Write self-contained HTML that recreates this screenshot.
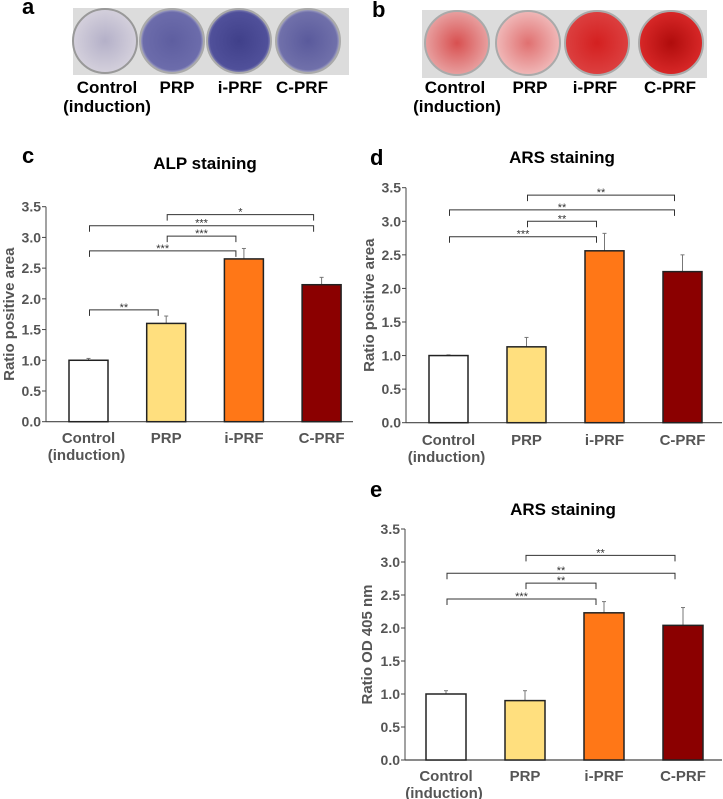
<!DOCTYPE html>
<html><head><meta charset="utf-8"><style>
body{margin:0;background:#fff}
svg{display:block;font-family:"Liberation Sans",sans-serif}
</style></head><body>
<svg id="fig" width="723" height="799" viewBox="0 0 723 799">
<defs>
<radialGradient id="gBlue" cx="50%" cy="50%" r="50%"><stop offset="0" stop-color="#5e5ea0"/><stop offset="0.9" stop-color="#6c6cab"/><stop offset="1" stop-color="#b0b0c8"/></radialGradient>
<radialGradient id="gBlueL" cx="50%" cy="50%" r="50%"><stop offset="0" stop-color="#b4b0c8"/><stop offset="1" stop-color="#d4d0dc"/></radialGradient>
<radialGradient id="gBlueD" cx="50%" cy="50%" r="50%"><stop offset="0" stop-color="#40408a"/><stop offset="0.9" stop-color="#50509a"/><stop offset="1" stop-color="#9090b8"/></radialGradient>
<radialGradient id="gBlueM" cx="50%" cy="50%" r="50%"><stop offset="0" stop-color="#5a5a9c"/><stop offset="0.9" stop-color="#7070aa"/><stop offset="1" stop-color="#b0b0c8"/></radialGradient>
<radialGradient id="gRedL" cx="50%" cy="50%" r="50%"><stop offset="0" stop-color="#d85050"/><stop offset="1" stop-color="#e8a0a0"/></radialGradient>
<radialGradient id="gRedP" cx="50%" cy="50%" r="50%"><stop offset="0" stop-color="#e07070"/><stop offset="1" stop-color="#f0b8b8"/></radialGradient>
<radialGradient id="gRed" cx="50%" cy="50%" r="50%"><stop offset="0" stop-color="#d42020"/><stop offset="1" stop-color="#dc4040"/></radialGradient>
<radialGradient id="gRedD" cx="50%" cy="50%" r="50%"><stop offset="0" stop-color="#b00c0c"/><stop offset="1" stop-color="#d82828"/></radialGradient>
</defs>
<g id="photos">
<text x="22" y="14" font-size="22" font-weight="bold">a</text>
<rect x="73" y="8" width="276" height="67" fill="#dcdcdc"/>
<circle cx="105" cy="41" r="32" fill="url(#gBlueL)" stroke="#999" stroke-width="2"/>
<circle cx="172" cy="41" r="32" fill="url(#gBlue)" stroke="#aaa" stroke-width="2"/>
<circle cx="239" cy="41" r="32" fill="url(#gBlueD)" stroke="#aaa" stroke-width="2"/>
<circle cx="308" cy="41" r="32" fill="url(#gBlueM)" stroke="#aaa" stroke-width="2"/>
<g font-size="17" font-weight="bold" text-anchor="middle">
<text x="107" y="93">Control</text><text x="107" y="112">(induction)</text>
<text x="177" y="93">PRP</text><text x="240" y="93">i-PRF</text><text x="302" y="93">C-PRF</text></g>
<text x="372" y="17" font-size="22" font-weight="bold">b</text>
<rect x="422" y="10" width="285" height="68" fill="#dcdcdc"/>
<circle cx="457" cy="43" r="32" fill="url(#gRedL)" stroke="#aaa" stroke-width="2"/>
<circle cx="528" cy="43" r="32" fill="url(#gRedP)" stroke="#aaa" stroke-width="2"/>
<circle cx="597" cy="43" r="32" fill="url(#gRed)" stroke="#aaa" stroke-width="2"/>
<circle cx="671" cy="43" r="32" fill="url(#gRedD)" stroke="#aaa" stroke-width="2"/>
<g font-size="17" font-weight="bold" text-anchor="middle">
<text x="455" y="93">Control</text><text x="457" y="112">(induction)</text>
<text x="530" y="93">PRP</text><text x="595" y="93">i-PRF</text><text x="670" y="93">C-PRF</text></g>
</g>
</svg>
<script>
const categories = ["Control", "PRP", "i-PRF", "C-PRF"];
const colors = ["#ffffff", "#ffdf7e", "#ff7717", "#8b0000"];
const ticks = [0, 0.5, 1.0, 1.5, 2.0, 2.5, 3.0, 3.5];
const alpMeans = [1.0, 1.6, 2.65, 2.23];
const alpErrors = [0.03, 0.12, 0.17, 0.12];
const alpSig = [[1, 3, 3.37, "*"], [0, 3, 3.19, "***"], [1, 2, 3.02, "***"], [0, 2, 2.78, "***"], [0, 1, 1.82, "**"]];
const arsAreaMeans = [1.0, 1.13, 2.56, 2.25];
const arsAreaErrors = [0.01, 0.14, 0.26, 0.25];
const arsAreaSig = [[1, 3, 3.39, "**"], [0, 3, 3.17, "**"], [1, 2, 3.0, "**"], [0, 2, 2.77, "***"]];
const arsODMeans = [1.0, 0.9, 2.23, 2.04];
const arsODErrors = [0.05, 0.15, 0.17, 0.27];
const arsODSig = [[1, 3, 3.1, "**"], [0, 3, 2.83, "**"], [1, 2, 2.68, "**"], [0, 2, 2.44, "***"]];

const NS = "http://www.w3.org/2000/svg";
const svg = document.getElementById("fig");
function mk(tag, attrs, parent, text) {
  const e = document.createElementNS(NS, tag);
  for (const k in attrs) e.setAttribute(k, attrs[k]);
  if (text !== undefined) e.textContent = text;
  parent.appendChild(e);
  return e;
}
function panel(cfg, means, errs, sig) {
  const g = mk("g", {}, svg);
  
  
  const y = v => cfg.y0 - (v / 3.5) * (cfg.y0 - cfg.y35);
  const xc = i => cfg.first + i * cfg.step;
  const lbl = mk("text", {x: cfg.lx, y: cfg.ly, "font-size": 22, "font-weight": "bold"}, g, cfg.letter);
  
  
  const t = mk("text", {x: cfg.tx, y: cfg.ty, "font-size": 17, "font-weight": "bold", "text-anchor": "middle"}, g, cfg.title);
  
  
  const yt = mk("text", {x: 0, y: 0, "font-size": 15, "font-weight": "bold", fill: "#555", "text-anchor": "middle", transform: `translate(${cfg.ytx},${(cfg.y0 + cfg.y35) / 2}) rotate(-90)`}, g, cfg.ytitle);
  
  
  const ax = mk("line", {x1: cfg.ax, y1: y(3.5), x2: cfg.ax, y2: y(0), stroke: "#444", "stroke-width": 1}, g);
  
  
  const xa = mk("line", {x1: cfg.ax, y1: y(0), x2: cfg.axEnd, y2: y(0), stroke: "#444", "stroke-width": 1.2}, g);
  
  
  ticks.forEach(v => {
    const tl = mk("text", {x: cfg.ax - 5, y: y(v) + 5, "font-size": 14, "font-weight": "bold", fill: "#555", "text-anchor": "end"}, g, v.toFixed(1));
    
    
    mk("line", {x1: cfg.ax - 4, y1: y(v), x2: cfg.ax, y2: y(v), stroke: "#444"}, g);
  });
  means.forEach((m, i) => {
    const e = mk("line", {x1: xc(i), y1: y(m + errs[i]), x2: xc(i), y2: y(m), stroke: "#777", "stroke-width": 1}, g);
    
    
    mk("line", {x1: xc(i) - 2, y1: y(m + errs[i]), x2: xc(i) + 2, y2: y(m + errs[i]), stroke: "#777"}, g);
    const b = mk("rect", {x: xc(i) - cfg.bw / 2, y: y(m), width: cfg.bw, height: y(0) - y(m), fill: colors[i], stroke: "#222", "stroke-width": 1.5}, g);
    
    
    const xl = mk("text", {x: xc(i), y: cfg.xly, "font-size": 15, "font-weight": "bold", fill: "#555", "text-anchor": "middle"}, g, categories[i]);
    
    
  });
  const ind = mk("text", {x: xc(0) - 2, y: cfg.xly + 17, "font-size": 15, "font-weight": "bold", fill: "#555", "text-anchor": "middle"}, g, "(induction)");
  
  
  sig.forEach(s => {
    const x1 = xc(s[0]) + 1, x2 = xc(s[1]) - 8, yy = y(s[2]);
    const p = mk("path", {d: `M${x1},${yy + 6} V${yy} H${x2} V${yy + 6}`, fill: "none", stroke: "#333", "stroke-width": 1}, g);
    
    
    const st = mk("text", {x: (x1 + x2) / 2, y: yy + 1, "font-size": 11, "text-anchor": "middle", fill: "#333"}, g, s[3]);
    
    
  });
}
panel({name: "alp-chart", letter: "c", lx: 22, ly: 163, title: "ALP staining", tx: 205, ty: 169, ytitle: "Ratio positive area", ytx: 14,
  y0: 421.7, y35: 206.7, ax: 46, axEnd: 353, first: 88.5, step: 77.7, bw: 39, xly: 443}, alpMeans, alpErrors, alpSig);
panel({name: "ars-area-chart", letter: "d", lx: 370, ly: 165, title: "ARS staining", tx: 562, ty: 163, ytitle: "Ratio positive area", ytx: 374,
  y0: 422.7, y35: 187.7, ax: 406, axEnd: 722, first: 448.5, step: 78, bw: 39, xly: 445}, arsAreaMeans, arsAreaErrors, arsAreaSig);
panel({name: "ars-od-chart", letter: "e", lx: 370, ly: 497, title: "ARS staining", tx: 563, ty: 515, ytitle: "Ratio OD 405 nm", ytx: 372,
  y0: 760, y35: 529, ax: 405, axEnd: 722, first: 446, step: 79, bw: 40, xly: 781}, arsODMeans, arsODErrors, arsODSig);
</script>
</body></html>
